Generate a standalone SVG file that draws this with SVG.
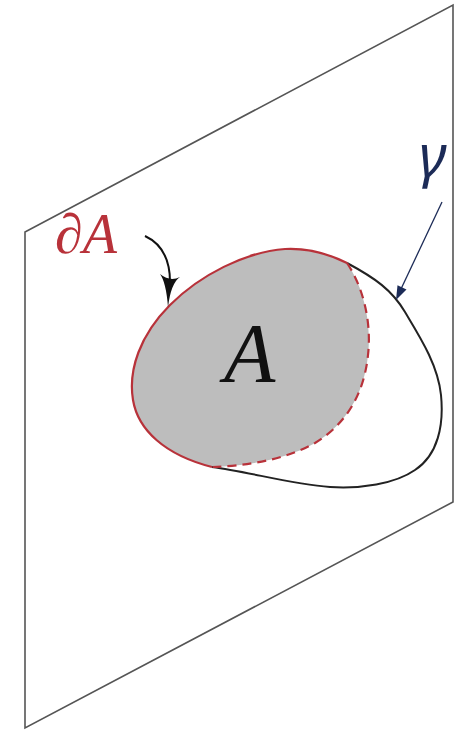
<svg xmlns="http://www.w3.org/2000/svg" width="455" height="731" viewBox="0 0 455 731">
<style>
.plane{fill:#fff;stroke:#555;stroke-width:1.6}
.red{fill:none;stroke:#b8323a;stroke-width:2.2}
.dash{stroke-dasharray:9 6}
.blk{fill:none;stroke:#222;stroke-width:2}
.serif{font-family:"Liberation Serif","Times New Roman","DejaVu Serif",serif;font-style:italic}
</style>
<rect width="455" height="731" fill="#fff"/>
<g id="plane"><polygon class="plane" points="25,232 453,5 453,502 25,728"/></g>
<g id="region">
<path d="M347,263 C325,252 305,248 285,249 C245,252 200,275 170,305 C140,335 128,370 133,400 C138,430 165,455 212,467 C245,466 285,460 315,443 C345,425 364,395 368,355 C372,320 362,285 347,263 Z" fill="#bdbdbd"/>
<path class="blk" d="M347,263 C375,278 392,290 405,312 C420,337 438,365 441,395 C444,425 438,455 415,470 C395,484 360,489 330,487 C290,484 250,472 212,467"/>
<path class="red" d="M347,263 C325,252 305,248 285,249 C245,252 200,275 170,305 C140,335 128,370 133,400 C138,430 165,455 212,467"/>
<path class="red dash" d="M347,263 C362,285 372,320 368,355 C364,395 345,425 315,443 C285,460 245,466 212,467"/>
<text class="serif" x="224" y="382" font-size="84" fill="#111">A</text>
</g>
<g id="labels">
<text class="serif" x="55" y="253" font-size="56" fill="#b8323a">∂A</text>
<text x="419" y="176" font-family="Noto Sans, sans-serif" font-style="italic" font-size="58" fill="#1c2b57">γ</text>
</g>
<g id="connectors">
<path d="M145,236 C160,243 170,258 170,282" fill="none" stroke="#111" stroke-width="2"/>
<path d="M160,274 Q166,282 168,307 Q171,283 180,277 Q170,282 160,274 Z" fill="#111"/>
<line x1="442" y1="202" x2="401" y2="289" stroke="#1c2b57" stroke-width="1.3"/>
<polygon points="396,300 406.5,289.4 397.5,285.2" fill="#1c2b57"/>
</g>
</svg>
